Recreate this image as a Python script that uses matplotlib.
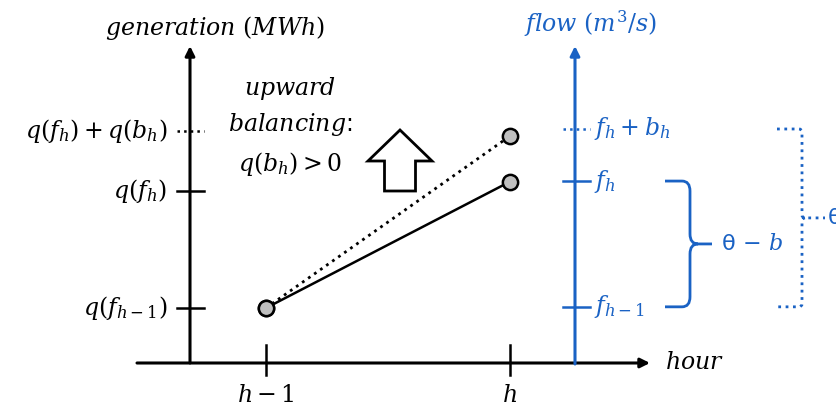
import matplotlib.pyplot as plt
from matplotlib.patches import FancyArrow, PathPatch
from matplotlib.path import Path

plt.rcParams['mathtext.fontset'] = 'dejavuserif'
plt.rcParams['font.family'] = ['DejaVu Sans']

### Schematic values (hour index, generation / flow in arbitrary units)
hours = [0, 1]
hour_labels = [r'$h-1$', r'$h$']
gen_scheduled = [0.0, 1.08]
gen_balanced = [0.0, 1.47]
gen_ticks = [0.0, 1.0, 1.51]
gen_labels = [r'$q(f_{h-1})$', r'$q(f_h)$', r'$q(f_h) + q(b_h)$']
flow_ticks = [0.01, 1.085, 1.53]
flow_labels = [r'$f_{h-1}$', r'$f_h$', r'$f_h + b_h$']

BLUE = '#1a62c4'
FS = 17

fig = plt.figure(figsize=(8.37, 4.07), dpi=100)
ax = fig.add_axes([0, 0, 1, 1])

# frame: h-1 sits at 266px, h at 510px; generation 0 at 308px, 1 at 191px
def px(x):
    return (x - 266) / 244

def py(y):
    return (308 - y) / 117

ax.set_xlim(px(0), px(837))
ax.set_ylim(py(407), py(0))
ax.axis('off')

### Axes drawn by hand
arrow_kw = dict(arrowstyle='-|>', lw=2.2, mutation_scale=14, shrinkA=0, shrinkB=0)
ax.annotate('', xy=(px(650), py(363)), xytext=(px(137), py(363)),
            arrowprops=dict(color='black', **arrow_kw))
ax.annotate('', xy=(px(190), py(46)), xytext=(px(190), py(363)),
            arrowprops=dict(color='black', **arrow_kw))
ax.annotate('', xy=(px(575), py(46)), xytext=(px(575), py(364)),
            arrowprops=dict(color=BLUE, **arrow_kw))

ax.text(px(215), py(28), r'$generation\ (MWh)$', ha='center', va='center', fontsize=FS)
ax.text(px(590), py(24), r'$flow\ (m^3/s)$', ha='center', va='center', fontsize=FS, color=BLUE)
ax.text(px(665), py(362), r'$hour$', ha='left', va='center', fontsize=FS)

# hour ticks
for t, lab in zip(hours, hour_labels):
    ax.plot([t, t], [py(345), py(375)], color='black', lw=1.8)
    ax.text(t, py(395), lab, ha='center', va='center', fontsize=FS)

# generation ticks (last one dotted)
for i, (t, lab) in enumerate(zip(gen_ticks, gen_labels)):
    ls = ':' if i == 2 else '-'
    ax.plot([px(177), px(204)], [t, t], color='black', lw=1.8, ls=ls)
    ax.text(px(167), t, lab, ha='right', va='center', fontsize=FS)

# flow ticks (last one dotted)
for i, (t, lab) in enumerate(zip(flow_ticks, flow_labels)):
    ls = ':' if i == 2 else '-'
    ax.plot([px(563), px(590)], [t, t], color=BLUE, lw=1.8, ls=ls)
    ax.text(px(594), t, lab, ha='left', va='center', fontsize=FS, color=BLUE)

### Generation lines and points
ax.plot(hours, gen_balanced, color='black', ls=':', lw=2, zorder=2)
ax.plot(hours, gen_scheduled, color='black', ls='-', lw=1.8, zorder=2)
for series in [gen_balanced, gen_scheduled]:
    ax.plot(hours, series, 'o', ms=11, mfc='#bfbfbf', mec='black', mew=1.8, zorder=4)

### Upward balancing note + block arrow
ax.text(px(290), py(88), r'$upward$', ha='center', va='center', fontsize=FS)
ax.text(px(290), py(125), r'$balancing$:', ha='center', va='center', fontsize=FS)
ax.text(px(290), py(164), r'$q(b_h) > 0$', ha='center', va='center', fontsize=FS)
ax.add_patch(FancyArrow(px(400), py(191), 0, py(130) - py(191),
                        width=px(415) - px(384), head_width=px(432) - px(368),
                        head_length=py(130) - py(161), length_includes_head=True,
                        fc='white', ec='black', lw=2))

### Braces
def brace(x0, x1, x2, ytop, ybot, rx, ry, **kw):
    ymid = (ytop + ybot) / 2
    verts = [(x0, ytop), (x1 - rx, ytop), (x1, ytop), (x1, ytop - ry),
             (x1, ymid + ry), (x1, ymid), (x1 + rx, ymid), (x2, ymid),
             (x1 + rx, ymid), (x1, ymid), (x1, ymid - ry),
             (x1, ybot + ry), (x1, ybot), (x1 - rx, ybot), (x0, ybot)]
    codes = [Path.MOVETO, Path.LINETO, Path.CURVE3, Path.CURVE3,
             Path.LINETO, Path.CURVE3, Path.CURVE3, Path.LINETO,
             Path.MOVETO, Path.CURVE3, Path.CURVE3,
             Path.LINETO, Path.CURVE3, Path.CURVE3, Path.LINETO]
    ax.add_patch(PathPatch(Path(verts, codes), fill=False, **kw))
    return ymid

rx = px(8) - px(0)
ry = py(0) - py(10)
mid = brace(px(665), px(690), px(712), flow_ticks[1], flow_ticks[0], rx, ry,
            ec=BLUE, lw=2)
ax.text(px(721), mid, r'θ$\,-\,b$', ha='left', va='center', fontsize=16, color=BLUE)

mid = brace(px(777), px(802), px(825), flow_ticks[2], flow_ticks[0],
            px(3) - px(0), py(0) - py(3), ec=BLUE, lw=2, ls=':')
ax.text(px(828), mid, 'θ', ha='left', va='center', fontsize=16, color=BLUE)

fig.savefig('out.png', dpi=100)
